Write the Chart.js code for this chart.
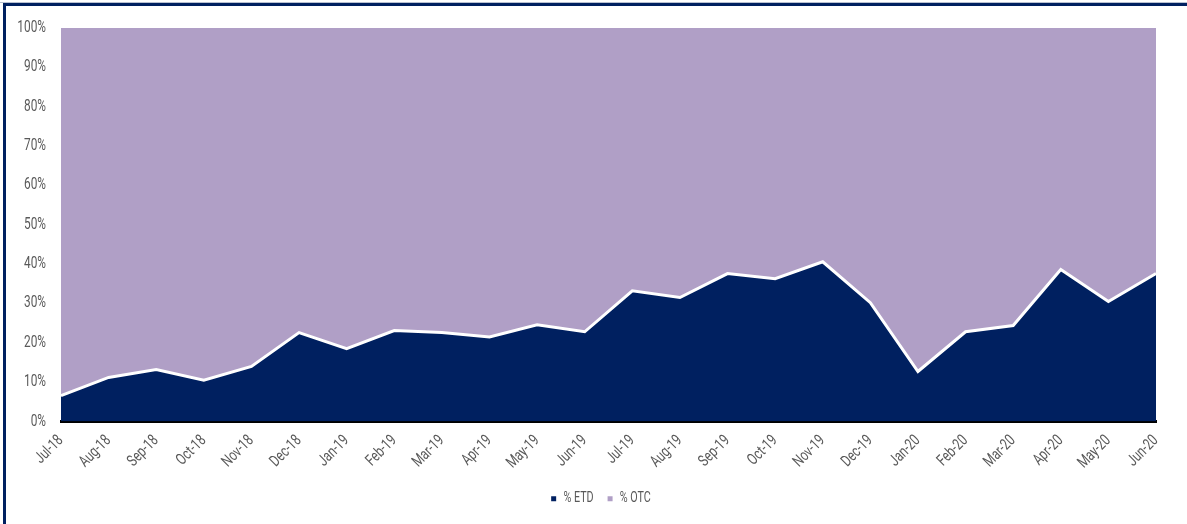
<!DOCTYPE html>
<html>
<head>
<meta charset="utf-8">
<script src="https://cdn.jsdelivr.net/npm/chart.js@4.4.1/dist/chart.umd.min.js"></script>
<style>
  html, body { margin: 0; padding: 0; background: #ffffff; overflow: hidden; }
  #frame { position: absolute; left: 3px; top: 3px; width: 1184px; height: 521px;
           border-top: 3px solid #002060; border-left: 3px solid #002060; box-sizing: border-box; }
  #topline { position: absolute; left: 0; top: 2px; width: 1187px; height: 1px; background: #b8c0d0; }
  #wrap { position: absolute; left: 0; top: 0; width: 1187px; height: 524px; }
</style>
</head>
<body>
<div id="topline"></div>
<div id="frame"></div>
<div id="wrap"><canvas id="c" width="1187" height="524"></canvas></div>
<script>
const categories = ["Jul-18","Aug-18","Sep-18","Oct-18","Nov-18","Dec-18","Jan-19","Feb-19","Mar-19","Apr-19","May-19","Jun-19",
                    "Jul-19","Aug-19","Sep-19","Oct-19","Nov-19","Dec-19","Jan-20","Feb-20","Mar-20","Apr-20","May-20","Jun-20"];
const etd = [6.6, 11.2, 13.2, 10.5, 14.0, 22.6, 18.5, 23.1, 22.6, 21.5, 24.6, 22.8,
             33.2, 31.5, 37.6, 36.3, 40.6, 30.2, 12.7, 22.8, 24.4, 38.6, 30.5, 37.6];
const otc = [93.4, 88.8, 86.8, 89.5, 86.0, 77.4, 81.5, 76.9, 77.4, 78.5, 75.4, 77.2,
             66.8, 68.5, 62.4, 63.7, 59.4, 69.8, 87.3, 77.2, 75.6, 61.4, 69.5, 62.4];
const yTicks = [0, 10, 20, 30, 40, 50, 60, 70, 80, 90, 100];

// Condensed text rendering (emulates the narrow typeface of the original)
const SX = 0.74;
(function () {
  const P = CanvasRenderingContext2D.prototype;
  const oFill = P.fillText, oMeasure = P.measureText;
  P.fillText = function (t, x, y, mw) {
    this.save();
    this.translate(x, y);
    this.scale(SX, 1);
    if (mw !== undefined) oFill.call(this, t, 0, 0, mw / SX); else oFill.call(this, t, 0, 0);
    this.restore();
  };
  P.measureText = function (t) {
    const m = oMeasure.call(this, t);
    return {
      width: m.width * SX,
      actualBoundingBoxAscent: m.actualBoundingBoxAscent,
      actualBoundingBoxDescent: m.actualBoundingBoxDescent,
      actualBoundingBoxLeft: m.actualBoundingBoxLeft * SX,
      actualBoundingBoxRight: m.actualBoundingBoxRight * SX,
      fontBoundingBoxAscent: m.fontBoundingBoxAscent,
      fontBoundingBoxDescent: m.fontBoundingBoxDescent
    };
  };
})();

const FONT = "Roboto, 'Liberation Sans', sans-serif";
const NAVY = '#002060';
const LAV = '#B09FC6';
const GREY = '#595959';

const legendShift = {
  id: 'legendShift',
  afterLayout(chart) {
    const lg = chart.legend;
    if (lg) { lg.left += 20; lg.right += 20; }
  }
};

new Chart(document.getElementById('c'), {
  type: 'line',
  data: {
    labels: categories,
    datasets: [
      { label: '% ETD', data: etd, fill: 'origin', backgroundColor: NAVY, borderColor: '#ffffff',
        borderWidth: 3, pointRadius: 0, tension: 0 },
      { label: '% OTC', data: otc, fill: '-1', backgroundColor: LAV, borderColor: LAV,
        borderWidth: 0, pointRadius: 0, tension: 0 }
    ]
  },
  plugins: [legendShift],
  options: {
    responsive: false,
    animation: false,
    devicePixelRatio: 1,
    layout: { padding: { left: 6, top: 28, right: 31, bottom: 8 } },
    plugins: {
      tooltip: { enabled: false },
      legend: {
        position: 'bottom',
        labels: {
          color: GREY,
          font: { family: FONT, size: 14.5 },
          boxWidth: 5, boxHeight: 5, padding: 14,
          generateLabels: (chart) => chart.data.datasets.map((ds, i) => ({
            text: ds.label, fillStyle: ds.backgroundColor, strokeStyle: ds.backgroundColor,
            lineWidth: 0, hidden: false, datasetIndex: i, fontColor: GREY
          }))
        }
      }
    },
    scales: {
      x: {
        offset: false,
        grid: { display: false, drawOnChartArea: false, drawTicks: false },
        border: { display: true, color: '#000000', width: 3 },
        ticks: { color: GREY, font: { family: FONT, size: 16 }, minRotation: 45, maxRotation: 45,
                 autoSkip: false, padding: 10 },
        afterFit: (s) => { s.height = 56; }
      },
      y: {
        stacked: true,
        min: 0, max: 100,
        grid: { display: false, drawTicks: false },
        border: { display: false },
        afterBuildTicks: (s) => { s.ticks = yTicks.map(v => ({ value: v })); },
        ticks: { color: GREY, font: { family: FONT, size: 16 }, padding: 15,
                 callback: (v) => v + '%' },
        afterFit: (s) => { s.width = 55; }
      }
    }
  }
});
</script>
</body>
</html>
